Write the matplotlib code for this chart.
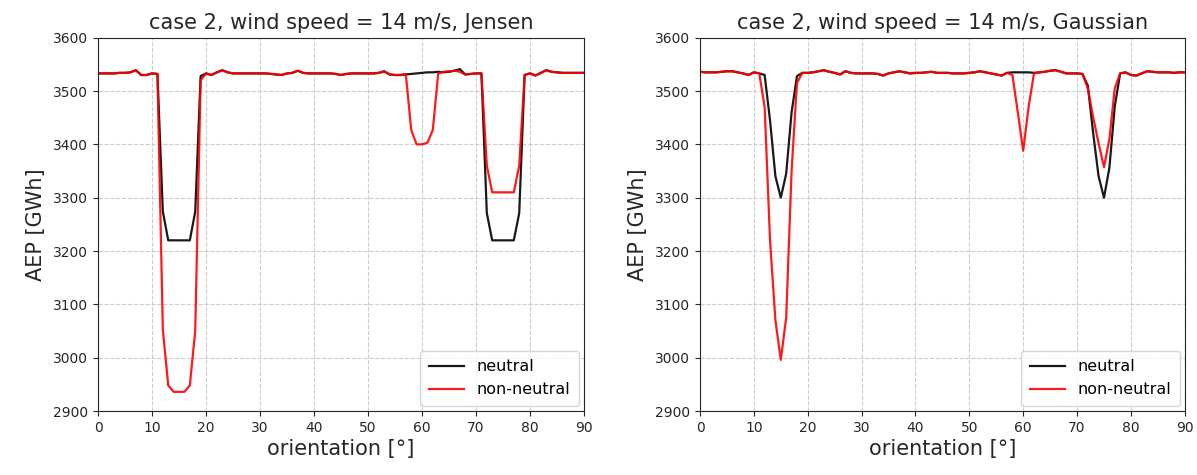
import numpy as np
import matplotlib
matplotlib.use("Agg")
import matplotlib.pyplot as plt

orientation = list(range(0, 91))

jensen_neutral = [
    3533, 3533, 3533, 3533, 3534, 3534, 3535, 3539, 3530, 3530,
    3533, 3532, 3274, 3220, 3220, 3220, 3220, 3220, 3274, 3528,
    3533, 3530, 3535, 3539, 3535, 3533, 3533, 3533, 3533, 3533,
    3533, 3533, 3532, 3531, 3530, 3533, 3534, 3538, 3534, 3533,
    3533, 3533, 3533, 3533, 3532, 3530, 3532, 3533, 3533, 3533,
    3533, 3533, 3534, 3537, 3531, 3530, 3530, 3531, 3532, 3533,
    3534, 3535, 3535, 3536, 3535, 3536, 3538, 3541, 3531, 3532,
    3533, 3533, 3271, 3220, 3220, 3220, 3220, 3220, 3271, 3530,
    3533, 3529, 3534, 3539, 3536, 3535, 3534, 3534, 3534, 3534,
    3534]

jensen_nonneutral = [
    3533, 3533, 3533, 3533, 3534, 3534, 3535, 3539, 3530, 3530,
    3533, 3532, 3053, 2948, 2936, 2936, 2936, 2948, 3050, 3520,
    3533, 3530, 3535, 3539, 3535, 3533, 3533, 3533, 3533, 3533,
    3533, 3533, 3532, 3531, 3530, 3533, 3534, 3538, 3534, 3533,
    3533, 3533, 3533, 3533, 3532, 3530, 3532, 3533, 3533, 3533,
    3533, 3533, 3534, 3537, 3531, 3530, 3530, 3532, 3427, 3400,
    3400, 3403, 3427, 3533, 3536, 3537, 3538, 3536, 3531, 3532,
    3533, 3533, 3360, 3310, 3310, 3310, 3310, 3310, 3360, 3530,
    3533, 3529, 3534, 3539, 3536, 3535, 3534, 3534, 3534, 3534,
    3534]

gaussian_neutral = [
    3536, 3535, 3535, 3535, 3536, 3537, 3537, 3535, 3533, 3530,
    3535, 3533, 3530, 3445, 3340, 3300, 3345, 3460, 3528, 3534,
    3534, 3535, 3537, 3539, 3536, 3534, 3531, 3537, 3534, 3533,
    3533, 3533, 3533, 3532, 3529, 3533, 3535, 3537, 3535, 3533,
    3534, 3534, 3535, 3536, 3534, 3534, 3534, 3533, 3533, 3533,
    3534, 3535, 3537, 3535, 3533, 3531, 3529, 3534, 3535, 3535,
    3535, 3535, 3534, 3535, 3536, 3538, 3539, 3536, 3533, 3533,
    3533, 3532, 3510, 3420, 3340, 3300, 3356, 3471, 3533, 3535,
    3530, 3529, 3533, 3537, 3536, 3535, 3535, 3535, 3534, 3535,
    3535]

gaussian_nonneutral = [
    3536, 3535, 3535, 3535, 3536, 3537, 3537, 3535, 3533, 3530,
    3535, 3533, 3470, 3220, 3070, 2996, 3075, 3350, 3515, 3534,
    3534, 3535, 3537, 3539, 3536, 3534, 3531, 3537, 3534, 3533,
    3533, 3533, 3533, 3532, 3529, 3533, 3535, 3537, 3535, 3533,
    3534, 3534, 3535, 3536, 3534, 3534, 3534, 3533, 3533, 3533,
    3534, 3535, 3537, 3535, 3533, 3531, 3529, 3534, 3530, 3460,
    3388, 3470, 3533, 3535, 3536, 3538, 3539, 3536, 3533, 3533,
    3533, 3532, 3505, 3450, 3402, 3357, 3410, 3505, 3533, 3535,
    3530, 3529, 3533, 3537, 3536, 3535, 3535, 3535, 3534, 3535,
    3535]

titles = ["case 2, wind speed = 14 m/s, Jensen",
          "case 2, wind speed = 14 m/s, Gaussian"]
series_labels = ["neutral", "non-neutral"]
x_ticks = list(range(0, 91, 10))
y_ticks = list(range(2900, 3601, 100))

fig = plt.figure(figsize=(11.97, 4.75), dpi=100)
ax1 = fig.add_axes([0.0819, 0.1347, 0.406, 0.786])
ax2 = fig.add_axes([0.5848, 0.1347, 0.405, 0.786])

panels = [(ax1, jensen_neutral, jensen_nonneutral, titles[0]),
          (ax2, gaussian_neutral, gaussian_nonneutral, titles[1])]

for ax, neu, non, title in panels:
    ax.plot(orientation, neu, color="black", lw=1.6, alpha=0.9, label=series_labels[0])
    ax.plot(orientation, non, color="red", lw=1.6, alpha=0.9, label=series_labels[1])
    ax.set_xlim(0, 90)
    ax.set_ylim(2900, 3600)
    ax.set_xticks(x_ticks)
    ax.set_yticks(y_ticks)
    ax.grid(True, linestyle="--", color="#cccccc", lw=0.8)
    ax.set_axisbelow(True)
    ax.tick_params(labelsize=10, colors="#262626")
    ax.set_title(title, fontsize=15, color="#262626", pad=6)
    ax.set_xlabel("orientation [°]", fontsize=15, color="#262626", labelpad=3)
    ax.set_ylabel("AEP [GWh]", fontsize=15, color="#262626", labelpad=5)
    for s in ax.spines.values():
        s.set_color("#262626")
    ax.legend(loc="lower right", fontsize=11.5, borderpad=0.55,
              borderaxespad=0.3, handlelength=2.2)

fig.savefig("out.png", dpi=100)
